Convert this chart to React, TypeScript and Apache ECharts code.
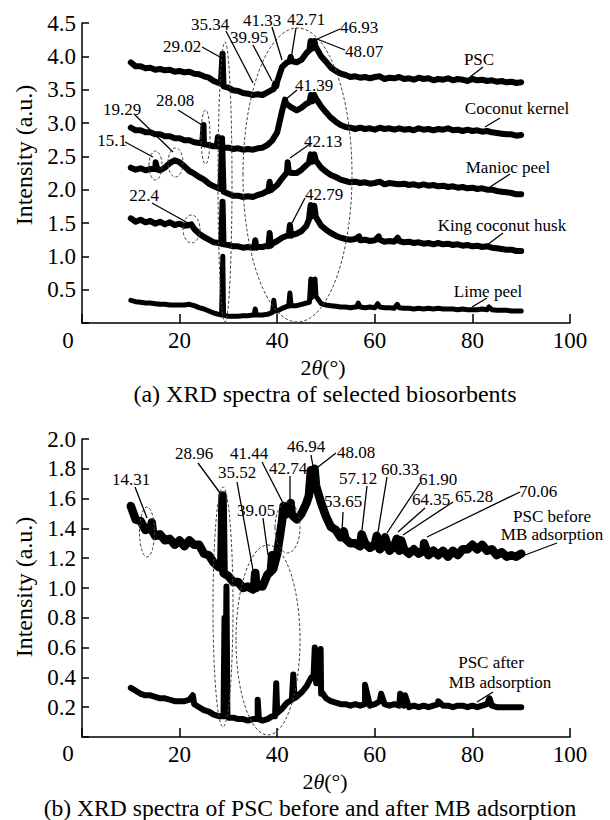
import React, { useEffect, useRef } from 'react';
import * as echarts from 'echarts';

// ---------- data (2θ from 10° to 90°, one value per degree, plus sharp peaks) ----------
const X_START = 10;
const xTicks = [0, 20, 40, 60, 80, 100];

// (a) XRD spectra of selected biosorbents
const pscBase = [
  3.91, 3.85, 3.85, 3.82, 3.83, 3.80, 3.81, 3.79, 3.80, 3.77,
  3.78, 3.76, 3.77, 3.74, 3.73, 3.70, 3.68, 3.63, 3.60, 3.55,
  3.53, 3.49, 3.48, 3.45, 3.44, 3.42, 3.43, 3.42, 3.46, 3.50,
  3.62, 3.84, 3.91, 3.93, 3.91, 3.95, 4.05, 4.14, 4.13, 4.00,
  3.92, 3.83, 3.78, 3.74, 3.72, 3.69, 3.70, 3.68, 3.69, 3.67,
  3.69, 3.70, 3.66, 3.68, 3.67, 3.69, 3.66, 3.67, 3.65, 3.68,
  3.66, 3.67, 3.64, 3.66, 3.65, 3.67, 3.64, 3.66, 3.65, 3.63,
  3.66, 3.64, 3.65, 3.63, 3.64, 3.62, 3.63, 3.61, 3.62, 3.60,
  3.61,
];
const pscPeaks = [
  [28.45, 3.59], [28.8, 4.04], [39.3, 3.51], [39.55, 3.59], [39.8, 3.55],
  [42.5, 3.92], [42.75, 3.99], [46.6, 4.09], [46.85, 4.23], [47.3, 4.12],
  [47.65, 4.23], [47.85, 4.15],
];

const coconutBase = [
  2.93, 2.89, 2.89, 2.86, 2.86, 2.83, 2.83, 2.80, 2.80, 2.77,
  2.77, 2.74, 2.74, 2.71, 2.70, 2.68, 2.67, 2.65, 2.65, 2.63,
  2.63, 2.61, 2.62, 2.60, 2.61, 2.60, 2.62, 2.63, 2.67, 2.74,
  2.86, 3.18, 3.28, 3.23, 3.19, 3.23, 3.29, 3.34, 3.36, 3.25,
  3.16, 3.08, 3.02, 2.97, 2.94, 2.93, 2.91, 2.93, 2.91, 2.92,
  2.90, 2.93, 2.91, 2.92, 2.90, 2.92, 2.90, 2.91, 2.89, 2.92,
  2.90, 2.91, 2.89, 2.91, 2.90, 2.92, 2.89, 2.90, 2.88, 2.90,
  2.88, 2.89, 2.87, 2.88, 2.86, 2.85, 2.84, 2.83, 2.83, 2.81,
  2.82,
];
const coconutPeaks = [
  [24.65, 2.70], [24.9, 2.97], [27.6, 2.65], [27.85, 2.79], [41.6, 3.35],
  [41.85, 3.29], [46.6, 3.31], [46.9, 3.42], [47.25, 3.33], [47.6, 3.42],
  [47.9, 3.37],
];

const maniocBase = [
  2.33, 2.30, 2.32, 2.29, 2.31, 2.31, 2.29, 2.33, 2.40, 2.44,
  2.41, 2.35, 2.28, 2.24, 2.19, 2.15, 2.09, 2.05, 2.02, 1.97,
  1.94, 1.91, 1.91, 1.89, 1.90, 1.89, 1.92, 1.94, 1.98, 2.01,
  2.07, 2.17, 2.26, 2.25, 2.25, 2.30, 2.37, 2.42, 2.43, 2.33,
  2.27, 2.22, 2.19, 2.15, 2.13, 2.11, 2.12, 2.10, 2.11, 2.09,
  2.10, 2.12, 2.08, 2.10, 2.09, 2.08, 2.09, 2.07, 2.08, 2.06,
  2.08, 2.06, 2.07, 2.05, 2.06, 2.04, 2.05, 2.03, 2.04, 2.02,
  2.03, 2.01, 2.02, 2.00, 2.00, 1.98, 1.97, 1.96, 1.95, 1.93,
  1.93,
];
const maniocPeaks = [
  [14.75, 2.31], [15.1, 2.41], [15.45, 2.30], [28.4, 2.01], [28.7, 2.77],
  [38.2, 1.98], [38.45, 2.12], [38.7, 1.99], [42.15, 2.41], [42.4, 2.26],
  [46.5, 2.40], [46.85, 2.53], [47.2, 2.42], [47.6, 2.53], [47.9, 2.44],
];

const kingBase = [
  1.57, 1.52, 1.55, 1.51, 1.53, 1.49, 1.52, 1.48, 1.51, 1.47,
  1.49, 1.46, 1.47, 1.41, 1.34, 1.29, 1.25, 1.21, 1.20, 1.18,
  1.17, 1.15, 1.15, 1.13, 1.14, 1.13, 1.14, 1.14, 1.16, 1.19,
  1.23, 1.28, 1.31, 1.32, 1.34, 1.38, 1.46, 1.60, 1.58, 1.46,
  1.40, 1.35, 1.31, 1.28, 1.26, 1.25, 1.26, 1.24, 1.25, 1.23,
  1.24, 1.25, 1.22, 1.23, 1.22, 1.23, 1.21, 1.22, 1.20, 1.21,
  1.19, 1.20, 1.18, 1.20, 1.18, 1.19, 1.17, 1.18, 1.16, 1.17,
  1.15, 1.16, 1.14, 1.15, 1.13, 1.12, 1.11, 1.10, 1.10, 1.08,
  1.08,
];
const kingPeaks = [
  [22.4, 1.48], [28.55, 1.19], [28.8, 1.82], [35.25, 1.13], [35.5, 1.24],
  [35.75, 1.13], [38.2, 1.15], [38.45, 1.35], [38.7, 1.16], [42.35, 1.31],
  [42.6, 1.47], [42.85, 1.31], [46.5, 1.55], [46.85, 1.77], [47.2, 1.60],
  [47.6, 1.76], [47.9, 1.60], [56.8, 1.30], [60.8, 1.30], [64.7, 1.28],
];

const limeBase = [
  0.34, 0.32, 0.31, 0.30, 0.30, 0.29, 0.28, 0.28, 0.27, 0.27,
  0.27, 0.27, 0.28, 0.26, 0.23, 0.21, 0.18, 0.15, 0.13, 0.12,
  0.10, 0.10, 0.10, 0.11, 0.11, 0.12, 0.12, 0.12, 0.13, 0.16,
  0.18, 0.22, 0.25, 0.26, 0.26, 0.28, 0.30, 0.38, 0.40, 0.29,
  0.27, 0.26, 0.25, 0.24, 0.24, 0.23, 0.24, 0.24, 0.23, 0.24,
  0.23, 0.24, 0.23, 0.23, 0.22, 0.23, 0.22, 0.22, 0.21, 0.22,
  0.21, 0.22, 0.21, 0.22, 0.21, 0.21, 0.21, 0.20, 0.21, 0.20,
  0.20, 0.20, 0.21, 0.20, 0.20, 0.19, 0.19, 0.19, 0.18, 0.18,
  0.18,
];
const limePeaks = [
  [28.6, 0.12], [28.85, 1.0], [35.25, 0.12], [35.5, 0.21], [35.75, 0.12],
  [39.05, 0.17], [39.3, 0.34], [39.55, 0.18], [42.35, 0.25], [42.6, 0.45],
  [42.85, 0.26], [46.6, 0.31], [46.9, 0.66], [47.2, 0.40], [47.75, 0.66],
  [47.95, 0.40], [56.3, 0.24], [56.6, 0.30], [60.6, 0.29], [64.6, 0.28],
  [83.4, 0.24],
];

// (b) XRD spectra of PSC before and after MB adsorption
const beforeBase = [
  1.55, 1.46, 1.45, 1.39, 1.40, 1.35, 1.36, 1.32, 1.33, 1.29,
  1.32, 1.28, 1.32, 1.29, 1.29, 1.23, 1.22, 1.17, 1.14, 1.10,
  1.08, 1.04, 1.04, 1.00, 1.01, 0.99, 1.02, 1.01, 1.09, 1.12,
  1.23, 1.45, 1.51, 1.49, 1.46, 1.50, 1.57, 1.68, 1.68, 1.57,
  1.48, 1.41, 1.39, 1.34, 1.33, 1.30, 1.30, 1.28, 1.30, 1.27,
  1.29, 1.26, 1.29, 1.25, 1.28, 1.25, 1.26, 1.23, 1.26, 1.23,
  1.25, 1.22, 1.25, 1.22, 1.25, 1.21, 1.25, 1.22, 1.26, 1.26,
  1.29, 1.26, 1.29, 1.25, 1.26, 1.22, 1.24, 1.21, 1.22, 1.21,
  1.23,
];
const beforePeaks = [
  [14.1, 1.39], [14.3, 1.44], [14.5, 1.38], [28.55, 1.14], [28.8, 1.62],
  [35.25, 1.0], [35.5, 1.1], [35.75, 1.0], [38.7, 1.11], [38.95, 1.22],
  [39.2, 1.13], [41.3, 1.55], [41.6, 1.49], [42.5, 1.51], [42.75, 1.57],
  [46.5, 1.62], [46.9, 1.79], [47.25, 1.69], [47.65, 1.80], [47.95, 1.69],
  [53.65, 1.38], [57.3, 1.36], [60.4, 1.35], [62.1, 1.34], [64.5, 1.33],
  [65.4, 1.32], [70.1, 1.30],
];

const afterBase = [
  0.33, 0.31, 0.29, 0.28, 0.28, 0.27, 0.26, 0.26, 0.25, 0.24,
  0.24, 0.24, 0.25, 0.22, 0.20, 0.18, 0.17, 0.15, 0.14, 0.14,
  0.13, 0.13, 0.12, 0.12, 0.11, 0.12, 0.12, 0.11, 0.12, 0.14,
  0.16, 0.19, 0.23, 0.25, 0.27, 0.30, 0.34, 0.40, 0.36, 0.29,
  0.26, 0.24, 0.23, 0.22, 0.22, 0.21, 0.22, 0.21, 0.22, 0.21,
  0.22, 0.24, 0.22, 0.21, 0.22, 0.21, 0.21, 0.20, 0.21, 0.20,
  0.21, 0.20, 0.21, 0.22, 0.21, 0.21, 0.20, 0.21, 0.21, 0.20,
  0.21, 0.20, 0.21, 0.22, 0.21, 0.20, 0.20, 0.20, 0.20, 0.20,
  0.20,
];
const afterPeaks = [
  [22.7, 0.28], [29.05, 0.14], [29.2, 0.80], [29.35, 0.14], [29.6, 1.01],
  [29.8, 0.14], [35.75, 0.12], [36.0, 0.25], [36.25, 0.12], [39.55, 0.14],
  [39.8, 0.36], [40.05, 0.16], [43.05, 0.25], [43.3, 0.42], [43.55, 0.26],
  [47.45, 0.41], [47.7, 0.60], [47.95, 0.38], [48.65, 0.37], [48.9, 0.59],
  [49.15, 0.30], [58.0, 0.35], [61.3, 0.29], [65.2, 0.29], [66.2, 0.28],
  [73.0, 0.24], [83.5, 0.26],
];

// ---------- annotation layout (pixels) ----------
// [text, labelX, labelY, lineX1, lineY1, lineX2, lineY2]
const notesA: [string, number, number, number, number, number, number][] = [
  ['29.02', 182, 46, 202, 47, 220, 57],
  ['35.34', 210, 24, 226, 31, 253, 83],
  ['39.95', 249, 37, 253, 45, 272, 81],
  ['41.33', 262, 20, 272, 27, 282, 60],
  ['42.71', 306, 19, 296, 28, 291, 59],
  ['46.93', 359, 27, 340, 29, 315, 40],
  ['48.07', 364, 51, 345, 50, 317, 39],
  ['PSC', 479, 59, 483, 67, 470, 77],
  ['Coconut kernel', 517, 108, 500, 118, 485, 127],
  ['41.39', 314, 85, 297, 90, 285, 100],
  ['28.08', 175, 100, 178, 110, 202, 125],
  ['19.29', 122, 109, 135, 115, 173, 152],
  ['15.1', 112, 140, 125, 142, 153, 157],
  ['Manioc peel', 508, 167, 510, 174, 490, 187],
  ['42.13', 323, 141, 310, 144, 290, 158],
  ['22.4', 144, 195, 152, 203, 188, 223],
  ['42.79', 324, 194, 305, 198, 292, 223],
  ['King coconut husk', 502, 225, 503, 233, 487, 245],
  ['Lime peel', 488, 291, 487, 298, 472, 307],
];
const notesB: [string, number, number, number, number, number, number][] = [
  ['14.31', 131, 479, 135, 487, 147, 518],
  ['28.96', 194, 453, 198, 463, 223, 497],
  ['41.44', 249, 453, 262, 462, 283, 503],
  ['35.52', 237, 472, 237, 482, 253, 570],
  ['42.74', 288, 468, 290, 476, 290, 505],
  ['39.05', 256, 510, 263, 518, 268, 555],
  ['46.94', 306, 446, 311, 455, 314, 472],
  ['48.08', 356, 452, 336, 453, 318, 467],
  ['57.12', 358, 478, 367, 486, 362, 530],
  ['53.65', 343, 501, 343, 512, 342, 532],
  ['60.33', 400, 469, 387, 477, 378, 532],
  ['61.90', 438, 479, 420, 483, 387, 533],
  ['64.35', 431, 499, 425, 508, 398, 532],
  ['65.28', 474, 496, 453, 502, 403, 535],
  ['70.06', 538, 491, 520, 492, 427, 537],
  ['PSC before', 552, 516, 557, 543, 525, 555],
  ['PSC after', 491, 662, 493, 692, 477, 702],
];
const extraTexts: [string, number, number][] = [
  ['MB adsorption', 552, 534],
  ['MB adsorption', 500, 682],
];
// [cx, cy, rx, ry]
const ellipses = [
  [225, 182, 7, 140], [297.5, 175, 54.5, 147], [205.5, 137, 4.5, 27],
  [155.5, 165.5, 6.5, 14.5], [175.5, 162.5, 7.5, 14.5], [191.5, 229, 8.5, 14],
  [223, 607, 10, 120], [268, 640, 32, 95], [287.5, 527.5, 12.5, 25.5],
  [147, 532, 7.5, 25],
];

const FONT = '"Liberation Serif", "Times New Roman", serif';

function build(base: number[], peaks: number[][]) {
  const pts = base.map((v, i) => [X_START + i, v]);
  return pts.concat(peaks.map((p) => [p[0], p[1]])).sort((a, b) => a[0] - b[0]);
}

export default function App() {
  const ref = useRef<HTMLDivElement>(null);
  useEffect(() => {
    if (!ref.current) return;
    const chart = echarts.init(ref.current, undefined, { renderer: 'svg' });

    const axisCommon = {
      type: 'value',
      axisLine: { show: true, lineStyle: { color: '#000', width: 1.5 } },
      splitLine: { show: false },
    };
    const xAxisFor = (gi: number) => ({
      ...axisCommon,
      gridIndex: gi,
      min: xTicks[0],
      max: xTicks[xTicks.length - 1],
      interval: 20,
      axisTick: { show: true, inside: true, length: 9, lineStyle: { color: '#000', width: 1.5 } },
      axisLabel: {
        formatter: (v: number) => (v === 0 ? '' : String(v)),
        fontSize: 23, fontFamily: FONT, color: '#000', margin: 6,
      },
    });
    const yAxisFor = (gi: number, max: number, interval: number) => ({
      ...axisCommon,
      gridIndex: gi,
      min: 0,
      max,
      interval,
      axisTick: { show: true, inside: true, length: 7, lineStyle: { color: '#000', width: 1.5 } },
      axisLabel: {
        formatter: (v: number) => (v === 0 ? '' : v.toFixed(1)),
        fontSize: 23, fontFamily: FONT, color: '#000', margin: 6,
      },
    });

    const line = (name: string, data: number[][], gi: number, width: number) => ({
      name,
      type: 'line',
      xAxisIndex: gi,
      yAxisIndex: gi,
      data,
      showSymbol: false,
      symbol: 'none',
      silent: true,
      lineStyle: { color: '#000', width, join: 'round', cap: 'round' },
    });

    const graphic: any[] = [];
    const txt = (text: string, x: number, y: number, size: number, extra: any = {}) => ({
      type: 'text', x, y, z: 100,
      style: { text, fontSize: size, fontFamily: FONT, fill: '#000', align: 'center', verticalAlign: 'middle', ...extra },
    });
    ellipses.forEach(([cx, cy, rx, ry]) => {
      graphic.push({
        type: 'ellipse', z: 90, silent: true,
        shape: { cx, cy, rx, ry },
        style: { fill: 'none', stroke: '#444', lineWidth: 1, lineDash: [3, 2] },
      });
    });
    [...notesA, ...notesB].forEach(([t, x, y, x1, y1, x2, y2]) => {
      graphic.push(txt(t, x, y, 17));
      graphic.push({
        type: 'line', z: 95, silent: true,
        shape: { x1, y1, x2, y2 },
        style: { stroke: '#000', lineWidth: 1.3 },
      });
    });
    extraTexts.forEach(([t, x, y]) => graphic.push(txt(t, x, y, 17)));
    // origin "0" labels
    graphic.push(txt('0', 68, 340, 23));
    graphic.push(txt('0', 68, 753, 23));
    // axis titles
    graphic.push({ ...txt('Intensity (a.u.)', 24, 155, 24), rotation: Math.PI / 2 });
    graphic.push({ ...txt('Intensity (a.u.)', 24, 587, 24), rotation: Math.PI / 2 });
    const thetaStyle = {
      rich: { i: { fontStyle: 'italic', fontSize: 22, fontFamily: FONT, fill: '#000' } },
    };
    graphic.push(txt('2{i|θ}(°)', 323, 367, 22, thetaStyle));
    graphic.push(txt('2{i|θ}(°)', 325, 781, 22, thetaStyle));
    // captions
    graphic.push(txt('(a) XRD spectra of selected biosorbents', 325, 394, 24));
    graphic.push(txt('(b) XRD spectra of PSC before and after MB adsorption', 310, 808, 23.6));

    chart.setOption({
      animation: false,
      backgroundColor: '#fff',
      grid: [
        { left: 82, top: 23, width: 488, height: 300 },
        { left: 82, top: 439, width: 488, height: 298 },
      ],
      xAxis: [xAxisFor(0), xAxisFor(1)],
      yAxis: [yAxisFor(0, 4.5, 0.5), yAxisFor(1, 2, 0.2)],
      series: [
        line('PSC', build(pscBase, pscPeaks), 0, 6),
        line('Coconut kernel', build(coconutBase, coconutPeaks), 0, 6),
        line('Manioc peel', build(maniocBase, maniocPeaks), 0, 6),
        line('King coconut husk', build(kingBase, kingPeaks), 0, 6),
        line('Lime peel', build(limeBase, limePeaks), 0, 5),
        line('PSC before MB adsorption', build(beforeBase, beforePeaks), 1, 8.5),
        line('PSC after MB adsorption', build(afterBase, afterPeaks), 1, 6),
      ],
      graphic,
    });
    return () => chart.dispose();
  }, []);
  return (
    <div
      ref={ref}
      style={{ position: 'fixed', left: 0, top: 0, width: 610, height: 820, background: '#fff' }}
    />
  );
}
